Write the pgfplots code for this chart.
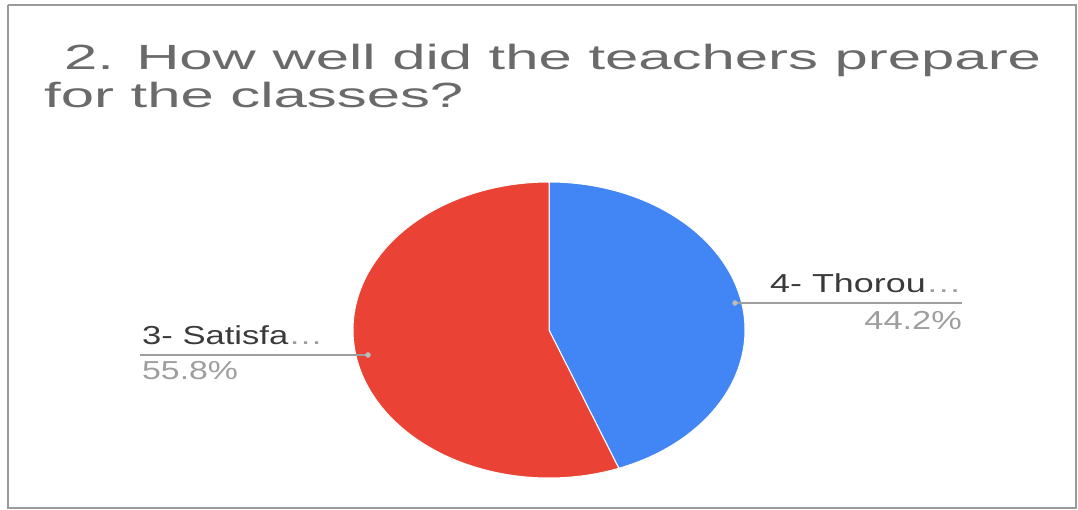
\documentclass[border=0pt]{standalone}
\usepackage{pgfplots}
\pgfplotsset{compat=1.18}
\usepackage{graphicx}
\usepackage{fontspec}
\setmainfont{Liberation Sans}
\definecolor{gblue}{HTML}{4285F4}
\definecolor{gred}{HTML}{EA4335}
\definecolor{titlegray}{HTML}{6A6A6A}
\definecolor{labgray}{HTML}{3A3A3A}
\definecolor{pctgray}{HTML}{9E9E9E}
\definecolor{framegray}{HTML}{9A9A9A}
\begin{document}
\begin{tikzpicture}
\begin{axis}[
  width=1078bp, height=510bp, scale only axis,
  xmin=0, xmax=1078, ymin=0, ymax=510, y dir=reverse,
  hide axis, clip=false,
]
% invisible corners fixing the picture size
\addplot[draw=none] coordinates {(0,0) (1078,510)};
% frame
\addplot[framegray, line width=2bp] coordinates {(8,5) (1076,5) (1076,508) (8,508) (8,5)};
% pie: 4- Thorough 44.2 %, 3- Satisfactory 55.8 %
\addplot[fill=gblue, draw=white, line width=1bp, domain={90-3.6*44.2}:90, samples=150, variable=\t]
  ({549+196*cos(t)},{330-148*sin(t)}) -- (549,330) -- cycle;
\addplot[fill=gred, draw=white, line width=1bp, domain={90-3.6*44.2-3.6*55.8}:{90-3.6*44.2}, samples=180, variable=\t]
  ({549+196*cos(t)},{330-148*sin(t)}) -- (549,330) -- cycle;
% leader lines
\addplot[pctgray, line width=1.3bp] coordinates {(735,303) (962,303)};
\addplot[pctgray, line width=1.3bp] coordinates {(140,355) (368,355)};
\addplot[only marks, mark=*, mark size=2.5bp, color=pctgray!70] coordinates {(735,303) (368,355)};
% title
\node[anchor=base west, inner sep=0, text=titlegray] at (64,70)
  {\scalebox{1.71}[1]{\fontsize{35bp}{42bp}\selectfont 2. How well did the teachers prepare}};
\node[anchor=base west, inner sep=0, text=titlegray] at (44,108)
  {\scalebox{1.71}[1]{\fontsize{35bp}{42bp}\selectfont for the classes?}};
% labels
\node[anchor=base west, inner sep=0, text=labgray] at (770,293)
  {\scalebox{1.38}[1]{\fontsize{26bp}{30bp}\selectfont 4- Thorou\textcolor{pctgray}{\ldots}}};
\node[anchor=base east, inner sep=0, text=pctgray] at (962,330)
  {\scalebox{1.32}[1]{\fontsize{26bp}{30bp}\selectfont 44.2\%}};
\node[anchor=base west, inner sep=0, text=labgray] at (142,345)
  {\scalebox{1.33}[1]{\fontsize{26bp}{30bp}\selectfont 3- Satisfa\textcolor{pctgray}{\ldots}}};
\node[anchor=base west, inner sep=0, text=pctgray] at (142,380)
  {\scalebox{1.30}[1]{\fontsize{26bp}{30bp}\selectfont 55.8\%}};
\end{axis}
\end{tikzpicture}
\end{document}
